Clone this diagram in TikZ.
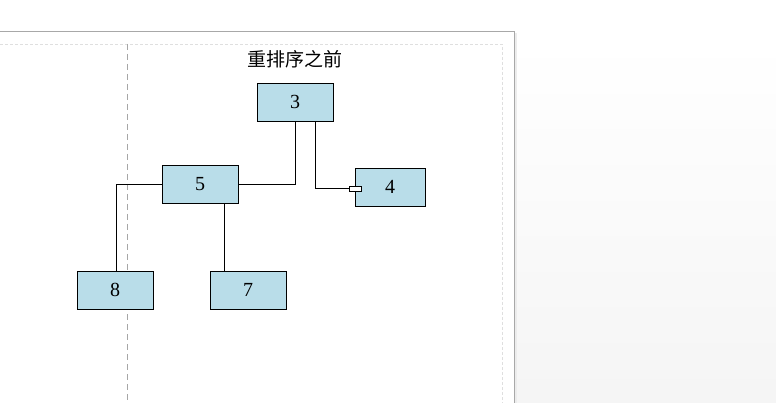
\documentclass[tikz,border=0pt]{standalone}
\usepackage{fontspec}
\setmainfont{Liberation Serif}
\newfontfamily\cjk{Noto Sans CJK SC}
\usetikzlibrary{positioning}
\definecolor{boxblue}{HTML}{B9DDE9}
\definecolor{pageedge}{HTML}{A8A8A8}

\begin{document}
\begin{tikzpicture}[x=1pt,y=-1pt,
  blk/.style={draw,fill=boxblue,minimum width=76pt,minimum height=38pt,inner sep=0pt,
              font=\fontsize{20}{22}\selectfont},
  port/.style={draw,fill=white,minimum width=12pt,minimum height=5pt,inner sep=0pt},
  ln/.style={line width=0.8pt},
  guide/.style={draw=gray!25,line width=0.6pt,dash pattern=on 3pt off 2pt}]
\useasboundingbox (0,0) rectangle (776,403);

% ---- page and surroundings ----
\fill[white] (0,0) rectangle (776,403);
\shade[top color=white,bottom color=gray!8] (515,40) rectangle (776,403);
\draw[pageedge,line width=1pt] (0,32) -- (514,32) -- (514,403);
\draw[gray!15,line width=1.5pt] (516,33) -- (516,403);
\draw[guide] (0,44) -- (502,44) -- (502,403);
\draw[gray!70,line width=0.7pt,dash pattern=on 6pt off 4pt] (127,44) -- (127,403);

% ---- title ----
\node[font=\cjk\fontsize{19}{22}\selectfont] (title) at (295,59) {重排序之前};

% ---- blocks ----
\node[blk] (b3) at (295,102) {3};
\node[blk] (b5) at (200,184) {5};
\node[blk,minimum width=70pt] (b4) at (390,187) {4};
\node[blk] (b8) at (115,290) {8};
\node[blk] (b7) at (248,290) {7};
\node[port] (p4) at (355,188.5) {};

% ---- wires ----
\draw[ln] (b3.south) |- (b5.east);
\draw[ln] ([xshift=20pt]b3.south) |- (p4.west);
\draw[ln] (b5.west) -| ([xshift=1pt]b8.north);
\draw[ln] ([xshift=24pt]b5.south) -- ([xshift=-24pt]b7.north);
\end{tikzpicture}
\end{document}
